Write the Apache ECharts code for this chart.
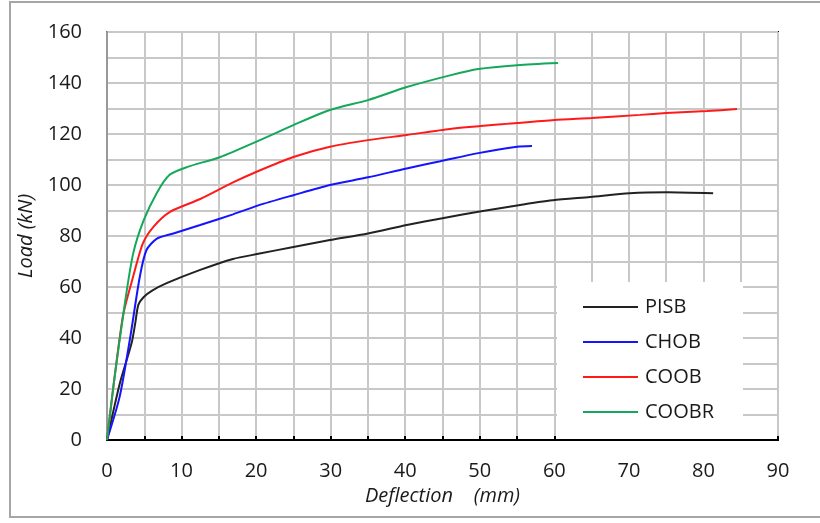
<!DOCTYPE html>
<html>
<head>
<meta charset="utf-8">
<script src="https://cdn.jsdelivr.net/npm/echarts@6/dist/echarts.min.js"></script>
<style>
  html, body { margin: 0; padding: 0; background: #fff; }
  #chart { width: 820px; height: 523px; }
</style>
</head>
<body>
<div id="chart"></div>
<script>
// load-deflection curves, [deflection mm, load kN]
var seriesNames = ['PISB', 'CHOB', 'COOB', 'COOBR'];
var seriesColors = ['#222222', '#1414ff', '#ff1a1a', '#14a85a'];

var pisb = [[0, 0], [1.7, 22], [3.3, 38], [3.8, 46], [4.2, 53], [4.9, 56], [6, 58.5], [8, 61.5],
    [12.5, 66.7], [16.9, 71], [20.3, 73], [25, 75.7], [29.9, 78.4], [35, 81], [40.2, 84.3],
    [45, 87], [50, 89.6], [55, 92], [59.8, 94], [64.8, 95.3], [70.1, 96.8], [75.1, 97.2], [81.3, 96.8]];
var chob = [[0, 0], [1.7, 17], [3.1, 40], [4.4, 64], [5.3, 74.5], [6.7, 79], [8.9, 81], [12.5, 84.3],
    [16.9, 88.5], [20.3, 92], [25, 96], [29.9, 100], [35, 103], [40.2, 106.5], [44.7, 109.3],
    [49.8, 112.5], [55, 115], [57, 115.3]];
var coob = [[0, 0], [2.1, 48], [3.5, 64], [4.8, 77], [6.2, 83.5], [8.4, 89.4], [12.5, 94.5], [16.9, 101],
    [20.3, 105.5], [25, 111], [29.9, 115], [35, 117.6], [40.2, 119.6], [46, 122], [55, 124.3],
    [60, 125.5], [65, 126.3], [71.5, 127.5], [75, 128.2], [80.5, 129], [84.5, 129.8]];
var coobr = [[0, 0], [0.9, 22], [2.4, 53.7], [3.5, 73], [4.9, 86], [6.7, 97], [8.4, 104], [10.7, 107],
    [15.2, 111], [20.5, 117.6], [25, 123.5], [29.9, 129.4], [35, 133.3], [40.2, 138.4], [46, 143],
    [49.8, 145.5], [55, 147], [60.5, 147.8]];

var xTicks = [0, 10, 20, 30, 40, 50, 60, 70, 80, 90];
var yTicks = [0, 20, 40, 60, 80, 100, 120, 140, 160];

var chart = echarts.init(document.getElementById('chart'));
var allData = [pisb, chob, coob, coobr];
var fontFam = '"Open Sans", "DejaVu Sans", sans-serif';

var option = {
    animation: false,
    textStyle: { fontFamily: fontFam },
    grid: {
        left: 107, right: 42, top: 32, bottom: 83,
        show: true, borderColor: '#000', borderWidth: 2
    },
    graphic: [
        {
            type: 'rect', z: -10, silent: true,
            shape: { x: 10, y: 2, width: 830, height: 515 },
            style: { fill: 'none', stroke: '#a6a6a6', lineWidth: 2 }
        },
        {
            type: 'rect', z: 5, silent: true,
            shape: { x: 557, y: 282, width: 186, height: 157 },
            style: { fill: '#fff' }
        }
    ],
    legend: {
        orient: 'vertical',
        left: 578, top: 290,
        z: 10,
        icon: 'rect',
        itemWidth: 55, itemHeight: 2,
        itemGap: 11,
        textStyle: { fontSize: 20, color: '#1a1a1a', lineHeight: 24, padding: [0, 0, 0, 2], fontFamily: fontFam },
        data: seriesNames
    },
    xAxis: {
        type: 'value', min: 0, max: 90, interval: 5,
        name: 'Deflection    (mm)',
        nameLocation: 'middle', nameGap: 46,
        nameTextStyle: { fontSize: 20, fontStyle: 'italic', color: '#1a1a1a', fontFamily: fontFam },
        axisLine: { lineStyle: { color: '#000', width: 2 } },
        axisTick: { inside: true, length: 4, lineStyle: { color: '#000', width: 2 } },
        axisLabel: {
            fontSize: 20, color: '#1a1a1a', margin: 21,
            formatter: function (v) { return xTicks.indexOf(v) >= 0 ? String(v) : ''; }
        },
        splitLine: { show: true, lineStyle: { color: '#c8c8c8', width: 2 } }
    },
    yAxis: {
        type: 'value', min: 0, max: 160, interval: 10,
        name: 'Load (kN)',
        nameLocation: 'middle', nameGap: 62,
        nameTextStyle: { fontSize: 20, fontStyle: 'italic', color: '#1a1a1a', fontFamily: fontFam },
        axisLine: { show: true, lineStyle: { color: '#999', width: 2 } },
        axisTick: { show: false },
        axisLabel: {
            fontSize: 20, color: '#1a1a1a', margin: 25,
            formatter: function (v) { return yTicks.indexOf(v) >= 0 ? String(v) : ''; }
        },
        splitLine: { show: true, lineStyle: { color: '#c8c8c8', width: 2 } }
    },
    series: seriesNames.map(function (name, i) {
        return {
            name: name,
            type: 'line',
            data: allData[i],
            smooth: 0.25,
            showSymbol: false,
            z: 3,
            color: seriesColors[i],
            lineStyle: { width: 2, color: seriesColors[i] }
        };
    })
};

chart.setOption(option);
window.addEventListener('resize', chart.resize);
</script>
</body>
</html>
